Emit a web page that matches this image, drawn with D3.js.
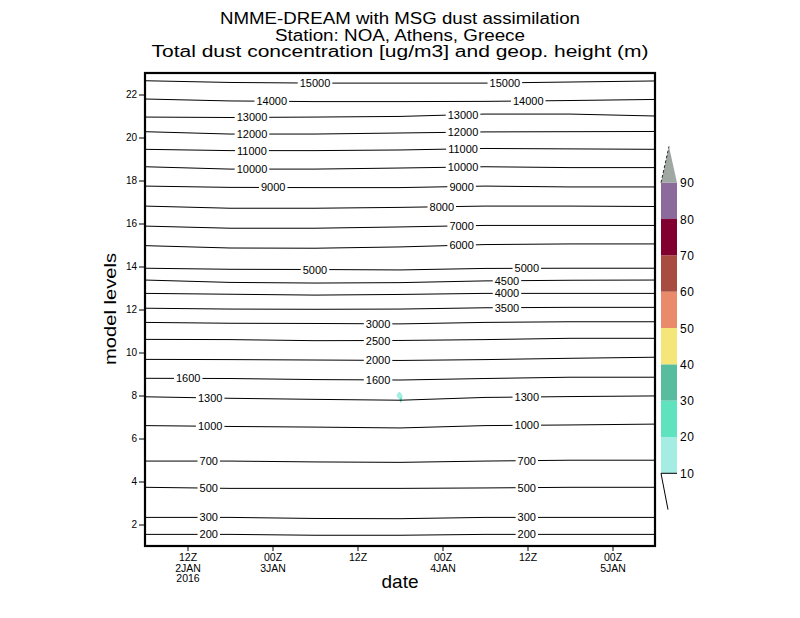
<!DOCTYPE html>
<html>
<head>
<meta charset="utf-8">
<script src="https://cdn.jsdelivr.net/npm/d3@7"></script>
<style>
  body { margin: 0; background: #fff; }
  svg { font-family: "Liberation Sans", Arial, sans-serif; }
</style>
</head>
<body>
<div id="chart"></div>
<script>
// hours after 06Z 2 Jan 2016 at which the contours were read
const hours = [0, 12, 24, 36, 48, 60, 72];

// geopotential height contours (m): model level of each line at those hours
const z15000 = [22.64, 22.56, 22.53, 22.53, 22.53, 22.58, 22.63];
const z14000 = [21.79, 21.70, 21.67, 21.67, 21.68, 21.72, 21.77];
const z13000 = [20.95, 20.93, 20.95, 20.98, 21.09, 21.09, 21.00];
const z12000 = [20.27, 20.16, 20.16, 20.21, 20.26, 20.27, 20.28];
const z11000 = [19.45, 19.39, 19.39, 19.42, 19.49, 19.47, 19.45];
const z10000 = [18.64, 18.53, 18.53, 18.58, 18.64, 18.60, 18.60];
const z9000 = [17.74, 17.68, 17.67, 17.67, 17.74, 17.70, 17.70];
const z8000 = [16.81, 16.71, 16.71, 16.75, 16.81, 16.81, 16.79];
const z7000 = [15.88, 15.78, 15.78, 15.84, 15.91, 15.91, 15.91];
const z6000 = [14.97, 14.86, 14.85, 14.91, 15.02, 15.05, 15.05];
const z5000 = [13.92, 13.87, 13.86, 13.84, 13.91, 13.92, 13.92];
const z4500 = [13.37, 13.26, 13.23, 13.25, 13.33, 13.36, 13.37];
const z4000 = [12.75, 12.71, 12.67, 12.70, 12.75, 12.75, 12.75];
const z3500 = [12.06, 12.02, 12.01, 12.02, 12.08, 12.10, 12.10];
const z3000 = [11.40, 11.36, 11.35, 11.33, 11.40, 11.43, 11.43];
const z2500 = [10.61, 10.60, 10.55, 10.56, 10.60, 10.66, 10.66];
const z2000 = [9.68, 9.67, 9.65, 9.63, 9.67, 9.73, 9.78];
const z1600 = [8.80, 8.79, 8.74, 8.72, 8.79, 8.85, 8.85];
const z1300 = [7.94, 7.87, 7.82, 7.78, 7.91, 7.95, 7.98];
const z1000 = [6.60, 6.56, 6.53, 6.49, 6.60, 6.63, 6.67];
const z700 = [4.95, 4.95, 4.91, 4.89, 4.95, 4.99, 4.99];
const z500 = [3.73, 3.68, 3.68, 3.68, 3.70, 3.73, 3.73];
const z300 = [2.33, 2.33, 2.28, 2.27, 2.33, 2.33, 2.33];
const z200 = [1.54, 1.54, 1.50, 1.50, 1.54, 1.54, 1.54];

const contourValues = [15000, 14000, 13000, 12000, 11000, 10000, 9000, 8000, 7000, 6000, 5000,
    4500, 4000, 3500, 3000, 2500, 2000, 1600, 1300, 1000, 700, 500, 300, 200];
const contourSeries = [z15000, z14000, z13000, z12000, z11000, z10000, z9000, z8000, z7000, z6000, z5000,
    z4500, z4000, z3500, z3000, z2500, z2000, z1600, z1300, z1000, z700, z500, z300, z200];
// hours where each contour carries its label
const labelHours = [[24, 50.8], [17.9, 54.1], [15.1, 44.9], [15.1, 44.9], [15.1, 44.9], [15.1, 44.9],
    [18.1, 44.7], [41.9], [44.7], [44.7], [24, 53.9], [51.1], [51.1], [51.1], [32.9], [32.9], [32.9],
    [6.1, 32.9], [9.2, 53.9], [9.2, 53.9], [9, 53.9], [9, 53.9], [9, 53.9], [9, 53.9]];

// dust concentration (ug/m3): the only patch above 10, as [hour, level] outlines
const dustValues = [15, 25];
const dustOutlines = [
    [[35.90, 8.18], [36.38, 7.98], [36.21, 7.81], [36.10, 7.64], [35.93, 7.81], [35.53, 7.98]],
    [[36.05, 7.90], [36.25, 7.86], [36.12, 7.68], [35.98, 7.80]]
];

// colour bar
const colorBreaks = [10, 20, 30, 40, 50, 60, 70, 80, 90];
const colorFills = ['#ffffff', '#a5ece3', '#5ee3be', '#58bc9f', '#f5e67a', '#e98b6b', '#a84c42',
    '#82002f', '#8c6a9c', '#a0a8a4'];

// axis ticks
const tickHours = [6, 18, 30, 42, 54, 66];
const tickLine1 = ['12Z', '00Z', '12Z', '00Z', '12Z', '00Z'];
const tickLine2 = ['2JAN', '3JAN', '', '4JAN', '', '5JAN'];
const tickLine3 = ['2016', '', '', '', '', ''];
const levelTicks = [2, 4, 6, 8, 10, 12, 14, 16, 18, 20, 22];

const titleLines = ['NMME-DREAM with MSG dust assimilation', 'Station: NOA, Athens, Greece',
    'Total dust concentration [ug/m3] and geop. height (m)'];

const t0 = Date.UTC(2016, 0, 2, 6);
const toDate = h => new Date(t0 + h * 3600e3);

const svg = d3.select('#chart')
    .append('svg')
    .attr('width', 800)
    .attr('height', 618);

const x = d3.scaleUtc().domain([toDate(0), toDate(72)]).range([145, 655]);
const y = d3.scaleLinear().domain([1, 23]).range([546, 73]);
const color = d3.scaleThreshold().domain(colorBreaks).range(colorFills);

svg.append('clipPath').attr('id', 'plotclip')
    .append('rect')
    .attr('x', x.range()[0]).attr('y', y.range()[1])
    .attr('width', x.range()[1] - x.range()[0])
    .attr('height', y.range()[0] - y.range()[1]);

const plot = svg.append('g').attr('clip-path', 'url(#plotclip)');

// dust shading
plot.append('g')
    .selectAll('path')
    .data(dustOutlines)
    .enter().append('path')
    .attr('d', d3.line().x(d => x(toDate(d[0]))).y(d => y(d[1])).curve(d3.curveCardinalClosed))
    .attr('fill', (d, i) => color(dustValues[i]));

// height contours
const line = d3.line()
    .x((d, i) => x(toDate(hours[i])))
    .y(d => y(d));

plot.append('g')
    .selectAll('path')
    .data(contourSeries)
    .enter().append('path')
    .attr('d', line)
    .attr('fill', 'none')
    .attr('stroke', '#000')
    .attr('stroke-width', 1);

// contour labels knocked out of the lines
const labelGroup = svg.append('g');
contourSeries.forEach((series, i) => {
    const interp = d3.scaleLinear().domain(hours).range(series);
    labelHours[i].forEach(h => {
        const px = x(toDate(h));
        const py = y(interp(h));
        const g = labelGroup.append('g');
        const rect = g.append('rect').attr('fill', '#fff');
        const text = g.append('text')
            .attr('x', px)
            .attr('y', py + 4)
            .attr('fill', '#000')
            .attr('text-anchor', 'middle')
            .attr('font-size', '11px')
            .text(contourValues[i]);
        const w = text.node().getComputedTextLength() + 4;
        rect.attr('x', px - w / 2).attr('y', py - 5).attr('width', w).attr('height', 10);
    });
});

// frame
svg.append('rect')
    .attr('x', x.range()[0]).attr('y', y.range()[1])
    .attr('width', x.range()[1] - x.range()[0])
    .attr('height', y.range()[0] - y.range()[1])
    .attr('fill', 'none')
    .attr('stroke', '#000')
    .attr('stroke-width', 2.2);

// y axis
const yAxis = svg.append('g')
    .attr('transform', `translate(${x.range()[0]},0)`)
    .call(d3.axisLeft(y).tickValues(levelTicks).tickSize(6).tickPadding(2));
yAxis.select('.domain').remove();
yAxis.selectAll('text').attr('font-size', '10px').attr('font-family', null);

// x axis with three-line labels
const xAxis = svg.append('g')
    .attr('transform', `translate(0,${y.range()[0]})`)
    .call(d3.axisBottom(x).tickValues(tickHours.map(toDate)).tickSize(5).tickFormat(''));
xAxis.select('.domain').remove();
xAxis.selectAll('.tick').each(function(d, i) {
    const t = d3.select(this).append('text')
        .attr('fill', '#000')
        .attr('font-size', '10.5px')
        .attr('text-anchor', 'middle');
    [tickLine1[i], tickLine2[i], tickLine3[i]].forEach((s, k) => {
        if (s) t.append('tspan').attr('x', 0).attr('y', 15 + k * 10.5).text(s);
    });
});

// axis titles
svg.append('text')
    .attr('x', 400).attr('y', 588)
    .attr('text-anchor', 'middle')
    .attr('font-size', '19px')
    .text('date');

svg.append('text')
    .attr('transform', 'translate(115.5,309) rotate(-90)')
    .attr('text-anchor', 'middle')
    .attr('font-size', '17px')
    .attr('textLength', 112)
    .attr('lengthAdjust', 'spacingAndGlyphs')
    .text('model levels');

// title
const titleWidths = [360, 250, 497];
svg.append('g')
    .selectAll('text')
    .data(titleLines)
    .enter().append('text')
    .attr('x', 400)
    .attr('y', (d, i) => 24 + i * 16.5)
    .attr('text-anchor', 'middle')
    .attr('font-size', '16px')
    .attr('textLength', (d, i) => titleWidths[i])
    .attr('lengthAdjust', 'spacingAndGlyphs')
    .text(d => d);

// colour bar
const cb = d3.scaleLinear().domain([10, 90]).range([473.3, 182.7]);
const step = cb(10) - cb(20);
const cbx0 = 661, cbx1 = 677;
const cbar = svg.append('g');

cbar.selectAll('rect')
    .data(colorBreaks.slice(0, -1))
    .enter().append('rect')
    .attr('x', cbx0)
    .attr('y', d => cb(d + 10))
    .attr('width', cbx1 - cbx0)
    .attr('height', d => cb(d) - cb(d + 10))
    .attr('fill', d => color(d + 5));

cbar.append('path')
    .attr('d', `M${cbx0},${cb(90)}L${cbx1},${cb(90)}L${(cbx0 + cbx1) / 2},${cb(90) - step}Z`)
    .attr('fill', color(95));
cbar.append('path')
    .attr('d', `M${cbx0},${cb(90)}L${(cbx0 + cbx1) / 2},${cb(90) - step}`)
    .attr('stroke', '#000')
    .attr('stroke-width', 0.8)
    .attr('stroke-dasharray', '3,2');
cbar.append('path')
    .attr('d', `M${cbx0},${cb(10)}L${cbx1},${cb(10)}M${cbx0},${cb(10)}L${cbx0 + 7},${cb(10) + step}`)
    .attr('stroke', '#000')
    .attr('fill', 'none');

cbar.selectAll('text')
    .data(colorBreaks)
    .enter().append('text')
    .attr('x', cbx1 + 3)
    .attr('y', d => cb(d) + 4.5)
    .attr('font-size', '12px')
    .attr('letter-spacing', '0.5px')
    .text(d => d);
</script>
</body>
</html>
